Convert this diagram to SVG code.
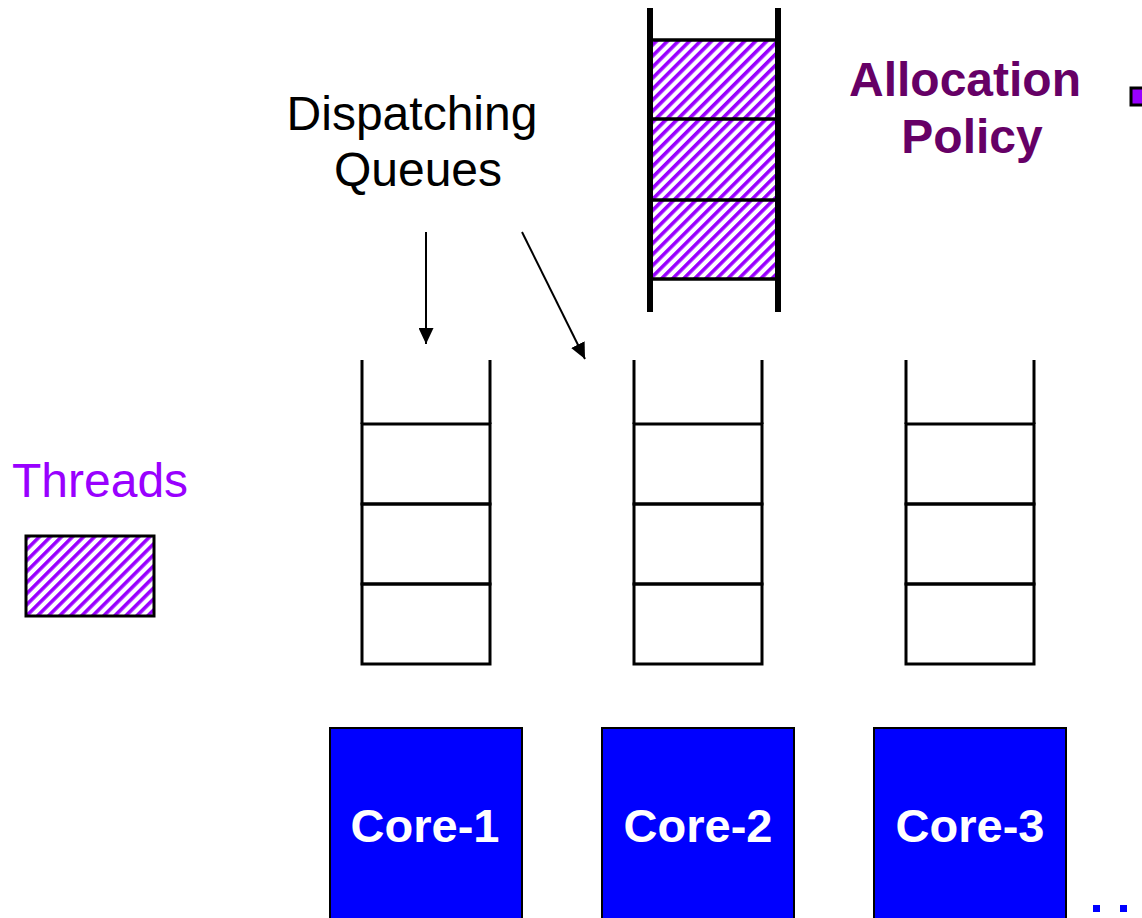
<svg xmlns="http://www.w3.org/2000/svg" width="1142" height="918" viewBox="0 0 1142 918">
<defs>
<pattern id="hatch" width="7.8" height="7.8" patternUnits="userSpaceOnUse" patternTransform="rotate(45)">
<rect width="7.8" height="7.8" fill="#ffffff"/>
<rect width="3.6" height="7.8" fill="#9900ff"/>
</pattern>
<marker id="arrow" viewBox="0 0 16 15" refX="16" refY="7.5" markerWidth="16" markerHeight="15" orient="auto" markerUnits="userSpaceOnUse">
<path d="M0,0 L16,7.5 L0,15 Z" fill="#000"/>
</marker>
</defs>
<style>
.lbl{font-family:"Liberation Sans",Arial,sans-serif;font-size:48px}
.cell{fill:none;stroke:#000;stroke-width:3}
.rail{stroke:#000;stroke-width:3}
.core{fill:#0000ff;stroke:#000;stroke-width:2}
.coretxt{font-family:"Liberation Sans",Arial,sans-serif;font-size:47px;font-weight:bold;fill:#fff;text-anchor:middle}
</style>
<rect width="1142" height="918" fill="#fff"/>

<g id="allocation-queue">
<rect x="650" y="40" width="127" height="239" fill="url(#hatch)"/>
<line x1="650" y1="40" x2="777" y2="40" stroke="#000" stroke-width="3.5"/>
<line x1="650" y1="119" x2="777" y2="119" stroke="#000" stroke-width="3.5"/>
<line x1="650" y1="200" x2="777" y2="200" stroke="#000" stroke-width="3.5"/>
<line x1="650" y1="279" x2="777" y2="279" stroke="#000" stroke-width="3.5"/>
<line x1="650" y1="8" x2="650" y2="312" stroke="#000" stroke-width="6"/>
<line x1="778" y1="8" x2="778" y2="312" stroke="#000" stroke-width="6"/>
</g>

<g id="label-allocation-policy">
<text class="lbl" x="965" y="96" text-anchor="middle" font-weight="bold" fill="#660066">Allocation</text>
<text class="lbl" x="972" y="153" text-anchor="middle" font-weight="bold" fill="#660066">Policy</text>
</g>

<g id="bullet">
<rect x="1131" y="88" width="14" height="17" fill="#9900ff" stroke="#000" stroke-width="3"/>
</g>

<g id="label-dispatching">
<text class="lbl" x="412" y="130" text-anchor="middle">Dispatching</text>
<text class="lbl" x="418" y="186" text-anchor="middle">Queues</text>
</g>

<g id="label-threads">
<text class="lbl" x="12" y="497" fill="#9900ff">Threads</text>
</g>

<g id="thread">
<rect x="26" y="536" width="128" height="80" fill="url(#hatch)" stroke="#000" stroke-width="3"/>
</g>

<g id="queue-1">
<line class="rail" x1="362" y1="360" x2="362" y2="424"/>
<line class="rail" x1="490" y1="360" x2="490" y2="424"/>
<rect class="cell" x="362" y="424" width="128" height="80"/>
<rect class="cell" x="362" y="504" width="128" height="80"/>
<rect class="cell" x="362" y="584" width="128" height="80"/>
</g>
<g id="queue-2">
<line class="rail" x1="634" y1="360" x2="634" y2="424"/>
<line class="rail" x1="762" y1="360" x2="762" y2="424"/>
<rect class="cell" x="634" y="424" width="128" height="80"/>
<rect class="cell" x="634" y="504" width="128" height="80"/>
<rect class="cell" x="634" y="584" width="128" height="80"/>
</g>
<g id="queue-3">
<line class="rail" x1="906" y1="360" x2="906" y2="424"/>
<line class="rail" x1="1034" y1="360" x2="1034" y2="424"/>
<rect class="cell" x="906" y="424" width="128" height="80"/>
<rect class="cell" x="906" y="504" width="128" height="80"/>
<rect class="cell" x="906" y="584" width="128" height="80"/>
</g>

<g id="core-1">
<rect class="core" x="330" y="728" width="192" height="200"/>
<text class="coretxt" x="425" y="842">Core-1</text>
</g>
<g id="core-2">
<rect class="core" x="602" y="728" width="192" height="200"/>
<text class="coretxt" x="698" y="842">Core-2</text>
</g>
<g id="core-3">
<rect class="core" x="874" y="728" width="192" height="200"/>
<text class="coretxt" x="970" y="842">Core-3</text>
</g>

<g id="ellipsis">
<rect x="1093" y="905" width="7" height="7" fill="#0000ff"/>
<rect x="1120" y="905" width="7" height="7" fill="#0000ff"/>
</g>

<g id="connectors">
<line x1="426" y1="232" x2="426" y2="344" stroke="#000" stroke-width="2" marker-end="url(#arrow)"/>
<line x1="522" y1="232" x2="585" y2="359" stroke="#000" stroke-width="2" marker-end="url(#arrow)"/>
</g>
</svg>
